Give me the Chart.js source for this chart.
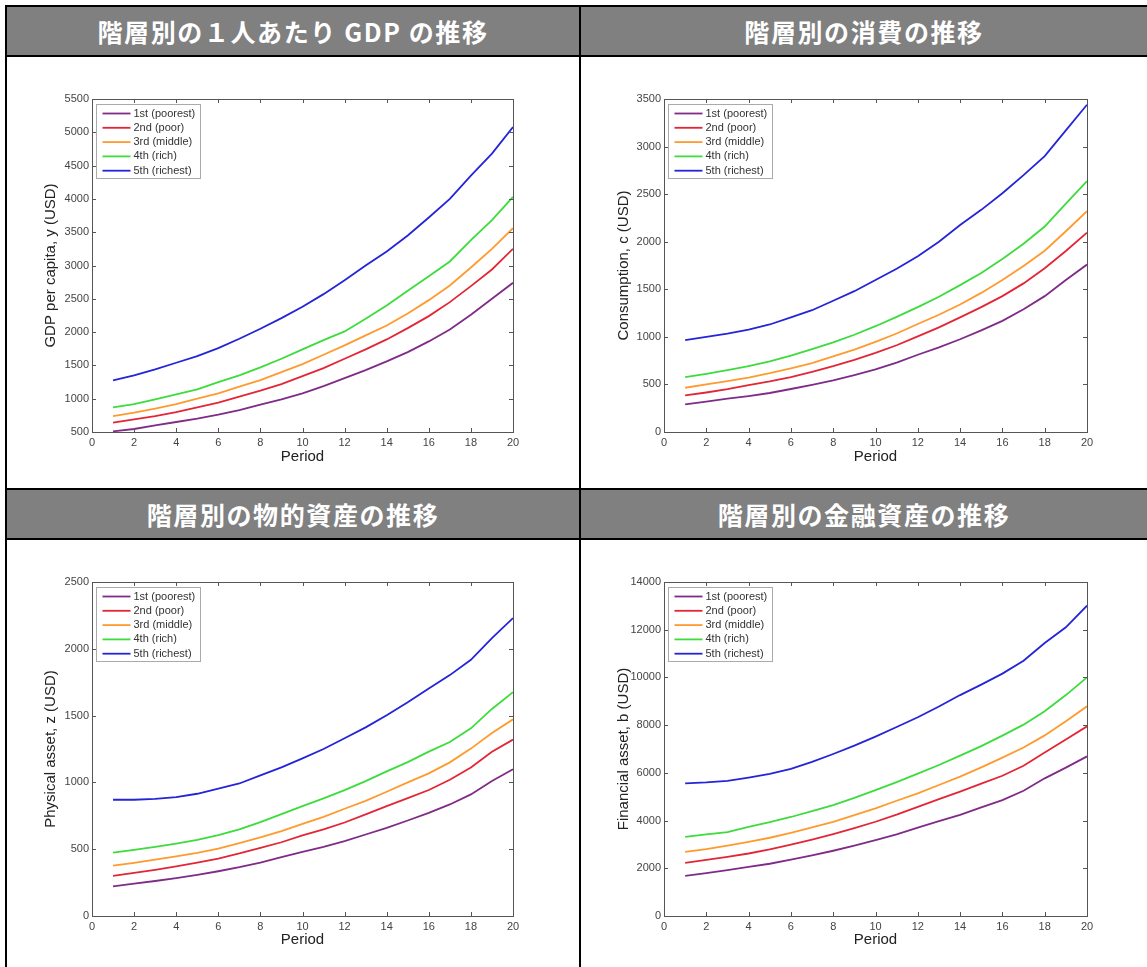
<!DOCTYPE html>
<html>
<head>
<meta charset="utf-8">
<script src="https://cdn.jsdelivr.net/npm/chart.js@4.4.1/dist/chart.umd.min.js"></script>
<style>
  body { margin: 0; background: #fff; width: 1147px; height: 967px; overflow: hidden; position: relative; }
  .ln { position: absolute; background: #000; }
  .head {
    position: absolute; background: #808080; color: #fff;
    font: bold 25px "Noto Sans CJK JP", sans-serif; letter-spacing: 1.6px;
    display: flex; align-items: center; justify-content: center;
  }
  canvas { position: absolute; }
</style>
</head>
<body>
  <div class="head" style="left:7px;top:7px;width:572px;height:48px">階層別の１人あたり GDP の推移</div>
  <div class="head" style="left:581px;top:7px;width:566px;height:48px">階層別の消費の推移</div>
  <div class="head" style="left:7px;top:490px;width:572px;height:48px">階層別の物的資産の推移</div>
  <div class="head" style="left:581px;top:490px;width:566px;height:48px">階層別の金融資産の推移</div>

  <div class="ln" style="left:5px;top:5px;width:1142px;height:2px"></div>
  <div class="ln" style="left:5px;top:5px;width:2px;height:962px"></div>
  <div class="ln" style="left:579px;top:5px;width:2px;height:962px"></div>
  <div class="ln" style="left:5px;top:55px;width:1142px;height:2px"></div>
  <div class="ln" style="left:5px;top:488px;width:1142px;height:2px"></div>
  <div class="ln" style="left:5px;top:538px;width:1142px;height:2px"></div>

  <canvas id="gdp" width="572" height="431" style="left:7px;top:57px"></canvas>
  <canvas id="cons" width="566" height="431" style="left:581px;top:57px"></canvas>
  <canvas id="phys" width="572" height="427" style="left:7px;top:540px"></canvas>
  <canvas id="fin" width="566" height="427" style="left:581px;top:540px"></canvas>

<script>
const periods = [1, 2, 3, 4, 5, 6, 7, 8, 9, 10, 11, 12, 13, 14, 15, 16, 17, 18, 19, 20];
const groupLabels = ['1st (poorest)', '2nd (poor)', '3rd (middle)', '4th (rich)', '5th (richest)'];
const groupColors = ['#7f2b87', '#e32636', '#ff9a2e', '#3cdc3c', '#2424d8'];

// GDP per capita
const gdpPoorest = [510, 545, 600, 650, 700, 760, 830, 910, 990, 1080, 1190, 1310, 1430, 1560, 1700, 1860, 2040, 2260, 2500, 2740];
const gdpPoor    = [640, 690, 740, 800, 870, 940, 1030, 1120, 1220, 1340, 1460, 1600, 1740, 1890, 2060, 2240, 2450, 2690, 2940, 3250];
const gdpMiddle  = [740, 790, 850, 920, 1000, 1080, 1180, 1280, 1400, 1520, 1660, 1800, 1950, 2100, 2280, 2480, 2700, 2970, 3250, 3560];
const gdpRich    = [870, 920, 990, 1065, 1140, 1250, 1350, 1470, 1600, 1740, 1880, 2010, 2200, 2400, 2620, 2840, 3060, 3380, 3680, 4030];
const gdpRichest = [1275, 1350, 1440, 1540, 1640, 1760, 1900, 2050, 2210, 2380, 2570, 2780, 3000, 3210, 3450, 3720, 4000, 4350, 4680, 5080];

// consumption
const consPoorest = [290, 320, 350, 378, 410, 452, 495, 543, 598, 658, 730, 812, 890, 975, 1068, 1168, 1290, 1428, 1598, 1760];
const consPoor    = [385, 415, 450, 492, 532, 578, 632, 692, 758, 832, 912, 1005, 1100, 1205, 1312, 1428, 1562, 1722, 1902, 2095];
const consMiddle  = [465, 500, 535, 572, 618, 670, 725, 795, 865, 948, 1035, 1135, 1232, 1340, 1462, 1598, 1745, 1905, 2110, 2320];
const consRich    = [577, 612, 650, 692, 742, 802, 870, 942, 1022, 1112, 1210, 1313, 1422, 1544, 1672, 1818, 1978, 2160, 2400, 2636];
const consRichest = [965, 1000, 1035, 1077, 1130, 1205, 1280, 1380, 1480, 1598, 1715, 1848, 2000, 2175, 2335, 2510, 2700, 2900, 3170, 3440];

// physical asset
const physPoorest = [222, 242, 262, 284, 308, 335, 365, 400, 440, 480, 518, 560, 610, 660, 715, 772, 835, 910, 1010, 1098];
const physPoor    = [300, 322, 346, 372, 400, 430, 468, 510, 552, 603, 648, 700, 760, 822, 882, 943, 1020, 1112, 1230, 1320];
const physMiddle  = [377, 398, 422, 447, 473, 505, 545, 588, 635, 690, 742, 803, 862, 930, 1000, 1068, 1150, 1253, 1370, 1472];
const physRich    = [475, 495, 517, 542, 570, 605, 648, 703, 762, 823, 880, 942, 1010, 1083, 1152, 1230, 1302, 1405, 1550, 1675];
const physRichest = [870, 870, 876, 890, 915, 953, 992, 1053, 1113, 1180, 1250, 1330, 1412, 1503, 1600, 1703, 1803, 1918, 2080, 2230];

// financial asset
const finPoorest = [1680, 1800, 1920, 2055, 2190, 2360, 2540, 2735, 2950, 3180, 3420, 3700, 3975, 4240, 4550, 4860, 5250, 5770, 6220, 6690];
const finPoor    = [2230, 2350, 2480, 2620, 2790, 2990, 3200, 3430, 3680, 3950, 4250, 4575, 4900, 5210, 5550, 5880, 6300, 6850, 7400, 7950];
const finMiddle  = [2690, 2800, 2950, 3105, 3280, 3485, 3710, 3950, 4230, 4510, 4830, 5140, 5490, 5840, 6230, 6640, 7060, 7570, 8160, 8790];
const finRich    = [3320, 3420, 3520, 3740, 3930, 4150, 4400, 4650, 4950, 5280, 5610, 5970, 6330, 6720, 7120, 7560, 8020, 8580, 9260, 10000];
const finRichest = [5560, 5600, 5660, 5800, 5960, 6170, 6460, 6790, 7140, 7520, 7920, 8330, 8780, 9260, 9700, 10160, 10700, 11440, 12100, 13010];

const FONT = '"Liberation Sans", Arial, sans-serif';
const Y_WIDTH = 60;
const X_HEIGHT = 45;
const TITLE_SIZE = 15;

// frame with inward ticks on all four sides, plus legend box inside the plot (matlab look)
const matlabFrame = {
  id: 'matlabFrame',
  afterDatasetsDraw(chart) {
    const { ctx, chartArea: a, scales: { x, y } } = chart;
    ctx.save();
    ctx.strokeStyle = '#555';
    ctx.lineWidth = 1;
    ctx.strokeRect(Math.round(a.left) + 0.5, Math.round(a.top) + 0.5, Math.round(a.width), Math.round(a.height));
    ctx.beginPath();
    x.ticks.forEach(t => {
      const px = Math.round(x.getPixelForValue(t.value)) + 0.5;
      ctx.moveTo(px, a.bottom); ctx.lineTo(px, a.bottom - 4);
      ctx.moveTo(px, a.top); ctx.lineTo(px, a.top + 4);
    });
    y.ticks.forEach(t => {
      const py = Math.round(y.getPixelForValue(t.value)) + 0.5;
      ctx.moveTo(a.left, py); ctx.lineTo(a.left + 4, py);
      ctx.moveTo(a.right, py); ctx.lineTo(a.right - 4, py);
    });
    ctx.stroke();

    // legend
    const bx = Math.round(a.left) + 4.5, by = Math.round(a.top) + 5.5;
    ctx.fillStyle = '#fff';
    ctx.fillRect(bx, by, 104, 74);
    ctx.strokeStyle = '#aaa';
    ctx.strokeRect(bx, by, 104, 74);
    ctx.font = '11px ' + FONT;
    ctx.textBaseline = 'middle';
    chart.data.datasets.forEach((ds, i) => {
      const ry = by + 9 + i * 14.3;
      ctx.strokeStyle = ds.borderColor;
      ctx.lineWidth = 1.8;
      ctx.beginPath();
      ctx.moveTo(bx + 6, ry); ctx.lineTo(bx + 34, ry);
      ctx.stroke();
      ctx.fillStyle = '#333';
      ctx.fillText(ds.label, bx + 37, ry);
    });
    ctx.restore();
  }
};

function makeChart(id, series, yTitle, yMin, yMax, yStep, area) {
  const canvas = document.getElementById(id);
  const W = canvas.width, H = canvas.height;
  const padLeft = area.left - Y_WIDTH;
  const half = TITLE_SIZE * 1.2 / 2;
  new Chart(canvas.getContext('2d'), {
    type: 'line',
    data: {
      datasets: series.map((vals, i) => ({
        label: groupLabels[i],
        data: periods.map((p, j) => ({ x: p, y: vals[j] })),
        borderColor: groupColors[i],
        backgroundColor: groupColors[i],
        borderWidth: 1.8,
        pointRadius: 0,
        tension: 0,
        fill: false
      }))
    },
    options: {
      responsive: false,
      animation: false,
      events: [],
      layout: {
        padding: { left: padLeft, right: W - area.right, top: area.top, bottom: H - area.bottom - X_HEIGHT }
      },
      plugins: { legend: { display: false }, tooltip: { enabled: false } },
      scales: {
        x: {
          type: 'linear', min: 0, max: 20,
          afterFit: s => { s.height = X_HEIGHT; },
          grid: { display: false, drawTicks: false },
          border: { display: false },
          ticks: { stepSize: 2, padding: 4, color: '#444', font: { family: FONT, size: 11 }, maxRotation: 0 },
          title: {
            display: true, text: 'Period', color: '#222',
            font: { family: FONT, size: TITLE_SIZE },
            padding: { top: 0, bottom: area.bottom + X_HEIGHT - area.periodY - half }
          }
        },
        y: {
          type: 'linear', min: yMin, max: yMax,
          afterFit: s => { s.width = Y_WIDTH; },
          grid: { display: false, drawTicks: false },
          border: { display: false },
          ticks: { stepSize: yStep, padding: 3, color: '#444', font: { family: FONT, size: 11 }, callback: v => String(v) },
          title: {
            display: true, text: yTitle, color: '#222',
            font: { family: FONT, size: TITLE_SIZE },
            padding: { top: area.titleX - padLeft - half, bottom: 0 }
          }
        }
      }
    },
    plugins: [matlabFrame]
  });
}

const leftArea  = { left: 85, right: 506, top: 42, bottom: 375, titleX: 44, periodY: 400 };
const rightArea = { left: 83, right: 506, top: 42, bottom: 375, titleX: 43, periodY: 400 };
const leftArea2  = Object.assign({}, leftArea, { bottom: 376 });
const rightArea2 = Object.assign({}, rightArea, { bottom: 376 });

makeChart('gdp', [gdpPoorest, gdpPoor, gdpMiddle, gdpRich, gdpRichest], 'GDP per capita, y (USD)', 500, 5500, 500, leftArea);
makeChart('cons', [consPoorest, consPoor, consMiddle, consRich, consRichest], 'Consumption, c (USD)', 0, 3500, 500, rightArea);
makeChart('phys', [physPoorest, physPoor, physMiddle, physRich, physRichest], 'Physical asset, z (USD)', 0, 2500, 500, leftArea2);
makeChart('fin', [finPoorest, finPoor, finMiddle, finRich, finRichest], 'Financial asset, b (USD)', 0, 14000, 2000, rightArea2);
</script>
</body>
</html>
